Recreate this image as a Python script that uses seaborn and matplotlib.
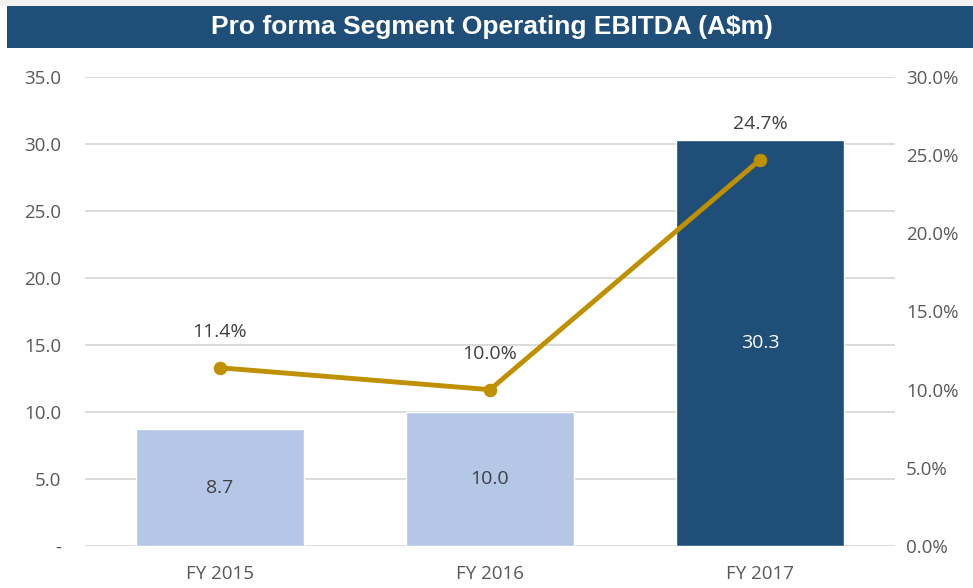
import matplotlib
matplotlib.use("Agg")
import matplotlib.pyplot as plt
import seaborn as sns
import pandas as pd
from matplotlib.patches import Rectangle

categories = ["FY 2015", "FY 2016", "FY 2017"]
ebitda = [8.7, 10.0, 30.3]
margin = [11.4, 10.0, 24.7]
left_ticks = [0, 5, 10, 15, 20, 25, 30, 35]
left_labels = ["-", "5.0", "10.0", "15.0", "20.0", "25.0", "30.0", "35.0"]
right_ticks = [0, 5, 10, 15, 20, 25, 30]
right_labels = ["0.0%", "5.0%", "10.0%", "15.0%", "20.0%", "25.0%", "30.0%"]
title = "Pro forma Segment Operating EBITDA (A$m)"

bar_colors = ["#B4C7E7", "#B4C7E7", "#1F4E79"]
label_colors = ["#404040", "#404040", "#FFFFFF"]
line_color = "#BF9000"
navy = "#1F4E79"

sns.set_theme(style="white")
plt.rcParams["font.family"] = ["Open Sans", "DejaVu Sans"]

df = pd.DataFrame({"cat": categories, "ebitda": ebitda, "margin": margin})

W, H = 973, 588
fig = plt.figure(figsize=(W / 100, H / 100), dpi=100)

# top grey strip and title bar
fig.patches.append(Rectangle((0, 1 - 6 / H), 1, 6 / H, transform=fig.transFigure,
                             facecolor="#F2F2F2", edgecolor="none"))
fig.patches.append(Rectangle((7 / W, 1 - 48 / H), 1, 42 / H, transform=fig.transFigure,
                             facecolor=navy, edgecolor="none"))
fig.text(492 / W, 1 - 27 / H, title, ha="center", va="center", color="white",
         fontsize=19, fontweight="bold", family="Liberation Sans")

ax = fig.add_axes([85 / W, 1 - 546 / H, 810 / W, 469 / H])
sns.barplot(data=df, x="cat", y="ebitda", hue="cat", palette=bar_colors,
            width=0.62, legend=False, ax=ax, saturation=1)
ax.set_xlim(-0.5, 2.5)
ax.set_ylim(0, 35)
ax.set_yticks(left_ticks)
ax.set_yticklabels(left_labels)
ax.yaxis.grid(True, color="#D9D9D9", linewidth=1.3)
ax.set_axisbelow(True)
for s in ax.spines.values():
    s.set_visible(False)
ax.set_xlabel("")
ax.set_ylabel("")
ax.tick_params(axis="y", length=0, pad=17, labelsize=13.5, labelcolor="#595959")
ax.tick_params(axis="x", length=0, pad=14, labelsize=13.5, labelcolor="#595959")

for i, (v, c) in enumerate(zip(ebitda, label_colors)):
    ax.text(i, v / 2, f"{v:.1f}", ha="center", va="center", color=c, fontsize=14)

ax2 = ax.twinx()
sns.lineplot(x=list(range(len(categories))), y=margin, ax=ax2, color=line_color,
             linewidth=3.5, marker="o", markersize=9, markeredgecolor=line_color)
ax2.set_ylim(0, 30)
ax2.set_yticks(right_ticks)
ax2.set_yticklabels(right_labels)
for s in ax2.spines.values():
    s.set_visible(False)
ax2.tick_params(axis="y", length=0, pad=8, labelsize=13.5, labelcolor="#595959")
ax2.set_ylabel("")
ax2.set_xlim(-0.5, 2.5)

for i, m in enumerate(margin):
    ax2.annotate(f"{m:.1f}%", (i, m), xytext=(0, 26), textcoords="offset points",
                 ha="center", va="center", color="#404040", fontsize=14)

fig.savefig("out.png", dpi=100)
